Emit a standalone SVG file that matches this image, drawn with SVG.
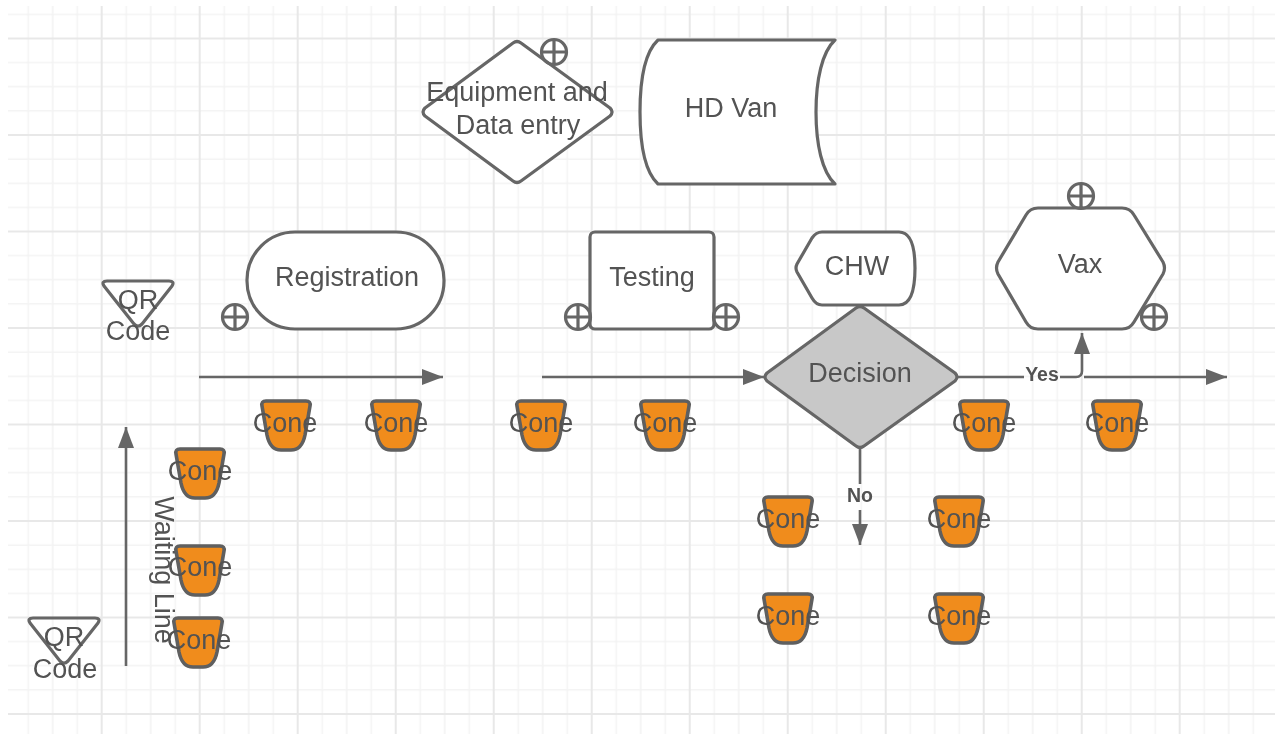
<svg xmlns="http://www.w3.org/2000/svg" width="1285" height="734" viewBox="0 0 1285 734">
<style>
text{font-family:"Liberation Sans",Arial,sans-serif;font-size:27px;fill:#525252;text-anchor:middle}
.s{fill:#fff;stroke:#666;stroke-width:3.2;stroke-linejoin:round}
.c{fill:#f08c1e;stroke:#5e5e5e;stroke-width:3.6;stroke-linejoin:round}
.l{fill:none;stroke:#666;stroke-width:2.6}
.p{fill:none;stroke:#666;stroke-width:3.2}
.b{font-size:19.5px;font-weight:bold}
</style>
<defs>
<filter id="soft" x="0" y="0" width="100%" height="100%" filterUnits="userSpaceOnUse"><feGaussianBlur stdDeviation="0.55"/></filter>
<pattern id="grid" patternUnits="userSpaceOnUse" x="101.7" y="38.5" width="98" height="96.5">
<path d="M24.5,0V96.5M49,0V96.5M73.5,0V96.5M0,24.1H98M0,48.25H98M0,72.4H98" fill="none" stroke="#f3f3f3" stroke-width="1.6"/>
<path d="M0,0V96.5M98,0V96.5M0,0H98M0,96.5H98" fill="none" stroke="#e8e8e8" stroke-width="2"/>
</pattern>
<marker id="a" markerUnits="userSpaceOnUse" markerWidth="22" markerHeight="16" refX="21" refY="8" orient="auto"><path d="M0,0L21,8L0,16Z" fill="#666"/></marker>
<path id="cone" d="M-20,0H20Q25,0 24,5L19,34Q16,49 5,49H-5Q-16,49 -19,34L-24,5Q-25,0 -20,0Z"/>
<path id="plus" d="M-12.5,0A12.5,12.5 0 1 1 12.5,0A12.5,12.5 0 1 1 -12.5,0ZM-12.5,0H12.5M0,-12.5V12.5"/>
<path id="merge" d="M-31,0H31Q37,0 34,5L4,43Q0,47 -4,43L-34,5Q-37,0 -31,0Z"/>
</defs>
<rect width="1285" height="734" fill="#fff"/>
<g filter="url(#soft)">
<rect x="8" y="6" width="1267" height="728" fill="url(#grid)"/>
<g id="connectors">
<path class="l" d="M199,377H443" marker-end="url(#a)"/>
<path class="l" d="M542,377H764" marker-end="url(#a)"/>
<path class="l" d="M958,377H1024M1060,377H1076Q1082,377 1082,371V333" marker-end="url(#a)"/>
<path class="l" d="M1084,377H1227" marker-end="url(#a)"/>
<path class="l" d="M126,666V427" marker-end="url(#a)"/>
<path class="l" d="M860,448V484M860,510V545" marker-end="url(#a)"/>
<text class="b" x="1042" y="381">Yes</text>
<text class="b" x="860" y="502">No</text>
</g>
<g id="equipment"><path class="s" d="M513,43Q517,40 521,43L610,108Q614,112 610,116L521,181Q517,184 513,181L425,116Q421,112 425,108Z"/><use href="#plus" class="p" x="554" y="52"/><text x="517" y="101">Equipment and</text><text x="518" y="134">Data entry</text></g>
<g id="hdvan"><path class="s" d="M835,40H658C645,52 640,80 640,112C640,144 645,172 658,184H835C822,172 816,144 816,112C816,80 822,52 835,40Z"/><text x="731" y="117">HD Van</text></g>
<g id="registration"><rect class="s" x="247" y="232" width="197" height="97" rx="48" ry="48"/><use href="#plus" class="p" x="235" y="317"/><text x="347" y="286">Registration</text></g>
<g id="testing"><rect class="s" x="590" y="232" width="124" height="97" rx="5"/><use href="#plus" class="p" x="578" y="317"/><use href="#plus" class="p" x="726" y="317"/><text x="652" y="286">Testing</text></g>
<g id="chw"><path class="s" d="M822,232H899Q915,232 915,268Q915,305 899,305H822Q816,305 812,298L797,272Q795,268 797,264L812,238Q816,232 822,232Z"/><text x="857" y="275">CHW</text></g>
<g id="decision"><path class="s" style="fill:#c8c8c8" d="M856,308Q860,305 864,308L955,373Q959,377 955,381L864,446Q860,449 856,446L767,381Q763,377 767,373Z"/><text x="860" y="382">Decision</text></g>
<g id="vax"><path class="s" d="M1038,208H1122Q1130,208 1134,215L1163,262Q1166,268 1163,274L1134,322Q1130,329 1122,329H1038Q1030,329 1026,322L998,274Q995,268 998,262L1026,215Q1030,208 1038,208Z"/><use href="#plus" class="p" x="1081" y="196"/><use href="#plus" class="p" x="1154" y="317"/><text x="1080" y="273">Vax</text></g>
<g id="qr1"><use href="#merge" class="s" style="fill:none" x="138" y="281"/><text x="138" y="309">QR</text><text x="138" y="340">Code</text></g>
<g id="qr2"><use href="#merge" class="s" style="fill:none" x="64" y="618"/><text x="64" y="646">QR</text><text x="65" y="678">Code</text></g>
<g id="waiting"><text transform="translate(155,570) rotate(90)">Waiting Line</text></g>
<g id="cone1"><use href="#cone" class="c" x="286" y="401"/><text x="285" y="432">Cone</text></g>
<g id="cone2"><use href="#cone" class="c" x="396" y="401"/><text x="396" y="432">Cone</text></g>
<g id="cone3"><use href="#cone" class="c" x="541" y="401"/><text x="541" y="432">Cone</text></g>
<g id="cone4"><use href="#cone" class="c" x="665" y="401"/><text x="665" y="432">Cone</text></g>
<g id="cone5"><use href="#cone" class="c" x="984" y="401"/><text x="984" y="432">Cone</text></g>
<g id="cone6"><use href="#cone" class="c" x="1117" y="401"/><text x="1117" y="432">Cone</text></g>
<g id="cone7"><use href="#cone" class="c" x="200" y="449"/><text x="200" y="480">Cone</text></g>
<g id="cone8"><use href="#cone" class="c" x="200" y="546"/><text x="200" y="576">Cone</text></g>
<g id="cone9"><use href="#cone" class="c" x="198" y="618"/><text x="199" y="649">Cone</text></g>
<g id="cone10"><use href="#cone" class="c" x="788" y="497"/><text x="788" y="528">Cone</text></g>
<g id="cone11"><use href="#cone" class="c" x="959" y="497"/><text x="959" y="528">Cone</text></g>
<g id="cone12"><use href="#cone" class="c" x="788" y="594"/><text x="788" y="625">Cone</text></g>
<g id="cone13"><use href="#cone" class="c" x="959" y="594"/><text x="959" y="625">Cone</text></g>
</g>
</svg>
